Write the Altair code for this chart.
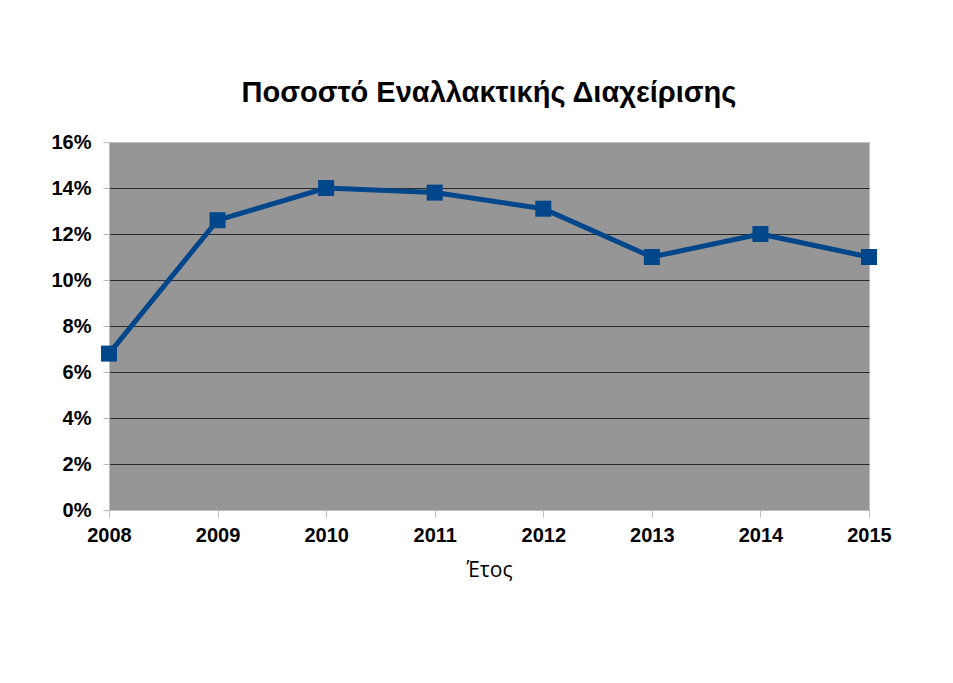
import altair as alt
import pandas as pd

years = ["2008", "2009", "2010", "2011", "2012", "2013", "2014", "2015"]
shares = [0.068, 0.126, 0.140, 0.138, 0.131, 0.110, 0.120, 0.110]

df = pd.DataFrame({"year": years, "share": shares})

chart = alt.Chart(df).mark_line(
    color="#00468B", strokeWidth=5,
    point=alt.OverlayMarkDef(shape="square", size=256, filled=True, color="#00468B", opacity=1),
).encode(
    x=alt.X("year:O", title="Έτος", scale=alt.Scale(padding=0),
            axis=alt.Axis(labelAngle=0, labelFont="Liberation Sans", labelFontWeight="bold",
                          labelFontSize=20, labelColor="#000", labelPadding=8,
                          tickSize=7, tickColor="#bdbdbd", domainColor="#bdbdbd",
                          titleFont="Open Sans", titleFontWeight="normal", titleFontSize=21,
                          titleColor="#000", titlePadding=14, grid=False)),
    y=alt.Y("share:Q", title=None,
            scale=alt.Scale(domain=[0, 0.16], nice=False),
            axis=alt.Axis(format=".0%", values=[0, 0.02, 0.04, 0.06, 0.08, 0.10, 0.12, 0.14, 0.16],
                          labelFont="Liberation Sans", labelFontWeight="bold", labelFontSize=20,
                          labelColor="#000", labelPadding=12, tickSize=6, tickColor="#bdbdbd",
                          domainColor="#bdbdbd", grid=True, gridWidth=1,
                          gridColor={"condition": {"test": "datum.value <= 0 || datum.value >= 0.159",
                                                   "value": "#bdbdbd"}, "value": "#2a2a2a"})),
).properties(
    width=760, height=368,
    background="#ffffff",
    title=alt.TitleParams("Ποσοστό Εναλλακτικής Διαχείρισης", font="Liberation Sans",
                          fontSize=29, fontWeight="bold", color="#000", anchor="middle",
                          offset=24),
    autosize=alt.AutoSizeParams(type="none"),
    padding={"left": 101, "top": 134, "right": 70, "bottom": 120},
).configure_view(fill="#969696", stroke="#bdbdbd", strokeWidth=1)

chart.save("out.html", embed_options={"renderer": "svg", "actions": False})
